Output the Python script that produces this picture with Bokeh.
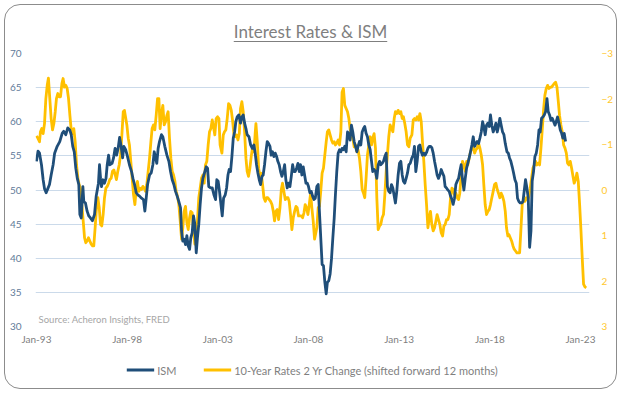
import numpy as np
import pandas as pd
from bokeh.plotting import figure
from bokeh.layouts import column
from bokeh.models import (Range1d, LinearAxis, FixedTicker, DatetimeTickFormatter,
                          Legend, LegendItem, Label, Div)
from bokeh.embed import file_html
from bokeh.resources import INLINE

# ---------------- data ----------------
# months since Jan-1993
ism_month = [0, 1, 2, 3.3, 4.4, 5.3, 6.4, 7.5, 8.6, 9.7, 11, 12, 13.7, 15.4, 17, 18, 19.4, 20.7, 22, 23,
             24, 25, 26, 27, 28, 28.7, 29.6, 30.7, 31.3, 32.4, 33.5, 34.6, 35.7, 37, 38.4, 39.5, 41, 41.7,
             42.4, 43, 44, 45, 46, 46.8, 47.7, 48.5, 50, 51, 52, 53, 54, 55, 56, 57, 57.8, 59, 60, 61.5,
             62.9, 63.8, 64.9, 66, 67, 68.2, 69.5, 70.8, 71.7, 72.6, 73.5, 74.8, 75.9, 77, 77.9, 78.8,
             79.6, 80.5, 81.4, 82.7, 83.6, 84.9, 86.3, 87.6, 88.7, 89.8, 90.9, 92, 93.1, 94.2, 95.3, 96,
             96.8, 97.7, 98.6, 99.5, 100.4, 101.3, 102.1, 103, 103.9, 104.8, 105.7, 106.5, 107.4, 108.3,
             109.2, 110.1, 111.4, 112.3, 113.2, 114, 115.2, 116.3, 117.4, 118.5, 119.3, 120.2, 121.1,
             122.9, 123.8, 124.9, 125.8, 126.7, 127.5, 128.4, 129.3, 130.2, 131.1, 131.9, 132.8, 133.9,
             135, 135.9, 136.8, 137.7, 138.6, 139.4, 140.6, 141.7, 142.8, 143.9, 144.7, 145.6, 146.5,
             147.4, 148.3, 149.2, 150, 150.9, 151.8, 152.7, 153.6, 154.5, 155.3, 156.2, 157.1, 158,
             158.9, 159.7, 160.6, 161.5, 162.4, 163.3, 164.2, 165, 165.9, 166.8, 167.7, 168.6, 169.5,
             170.3, 171.2, 172.1, 173, 173.9, 174.7, 175.6, 176.5, 177.4, 178.3, 179.2, 180, 180.9,
             181.8, 182.7, 183.6, 184.5, 185.5, 186.4, 187.2, 188.1, 189, 189.9, 190.8, 191.7, 192.5,
             193.4, 194.3, 195.2, 196.1, 197, 197.8, 198.7, 199.6, 200.5, 201.4, 202.2, 203.1, 204,
             204.9, 205.8, 206.7, 207.5, 208.4, 209.3, 210.2, 211.1, 212, 212.8, 213.7, 214.6, 215.5,
             216.4, 217.2, 218.1, 219, 219.9, 220.8, 221.7, 222.5, 223.4, 224.3, 225.2, 226.1, 227,
             227.8, 228.7, 229.6, 230.5, 231.4, 232.2, 233.1, 234, 234.9, 235.8, 236.7, 237.5, 238.4,
             239.3, 240.2, 241.1, 242, 242.8, 243.7, 244.6, 245.5, 246.4, 247.3, 248.4, 249.3, 250.1,
             251, 251.9, 252.8, 253.7, 254.6, 255.4, 256.3, 257.2, 258.1, 259, 259.9, 260.7, 261.6,
             262.5, 263.4, 264.3, 265.1, 266, 266.9, 267.8, 268.7, 269.6, 270.4, 271.3, 272.2, 273.1,
             274, 274.9, 275.7, 276.6, 277.5, 278.4, 279.3, 280.1, 281, 281.9, 282.8, 283.7, 284.6,
             285.4, 286.3, 287.2, 288.1, 289, 289.9, 290.7, 291.6, 292.5, 293.4, 294.3, 295.2, 296,
             296.9, 297.8, 298.7, 299.6, 300.4, 301.3, 302.2, 303.1, 304, 304.9, 305.7, 306.6, 307.5,
             308.4, 309.3, 310.2, 311.3, 312.2, 313, 313.9, 314.8, 315.7, 316.6, 317.5, 318.3, 319.2,
             320.1, 321, 321.9, 322.8, 323.6, 324.5, 325.4, 326.3, 327.2, 328, 328.9, 329.8, 330.7,
             331.6, 332.5, 333.3, 334.2, 335.1, 336, 336.9, 337.8, 338.6, 339.5, 340.4, 341.3, 342.2,
             343.1, 343.9, 344.8, 345.7, 346.6, 347.5, 348.3, 349.2, 350.1]
ism_value = [54.2, 55.7, 55.4, 53.7, 51.5, 50.2, 49.6, 50.2, 50.8, 52.2, 53.7, 55.4, 56.4, 57.1, 58.3, 58.6,
             58.1, 59.1, 58.8, 58.1, 56.4, 55.6, 53.2, 51.7, 50.8, 46.4, 45.9, 50.5, 48.3, 48.1, 46.9, 46.2,
             45.9, 45.5, 46.4, 49.1, 51.0, 53.7, 51.7, 50.5, 51.5, 51.0, 51.7, 53.7, 55.1, 53.7, 53.9, 54.7,
             56.1, 55.1, 56.1, 57.7, 56.4, 54.7, 56.4, 55.9, 55.1, 53.7, 52.7, 51.7, 50.8, 49.6, 49.3, 49.1,
             48.8, 48.6, 46.9, 48.8, 50.8, 52.2, 52.5, 53.7, 55.6, 54.7, 53.9, 56.1, 57.1, 58.1, 57.8, 56.4,
             55.1, 54.2, 52.7, 51.5, 50.8, 49.8, 49.1, 48.3, 47.4, 44.0, 42.5, 42.8, 42.0, 43.3, 41.8, 41.3,
             43.0, 43.7, 46.2, 45.0, 40.8, 43.0, 45.0, 47.9, 50.3, 51.7, 52.7, 53.4, 53.2, 50.5, 50.3, 50.3,
             49.3, 48.6, 51.5, 51.3, 49.8, 46.2, 48.8, 49.3, 50.3, 52.2, 53.0, 52.7, 54.9, 57.6, 58.5, 60.0,
             60.7, 61.0, 59.8, 60.7, 61.0, 59.8, 59.0, 58.1, 57.8, 56.6, 56.1, 56.6, 55.4, 53.7, 52.5, 51.5,
             50.8, 52.0, 52.2, 53.7, 55.6, 57.1, 56.8, 56.4, 55.1, 55.6, 54.9, 55.4, 54.9, 54.2, 53.7, 52.7,
             52.0, 52.7, 53.7, 51.5, 50.3, 51.0, 50.5, 52.0, 53.7, 52.7, 52.7, 53.2, 53.9, 52.7, 53.7, 52.2,
             53.4, 52.2, 51.0, 51.0, 50.5, 49.6, 49.8, 49.1, 48.6, 48.8, 50.5, 50.8, 46.9, 43.0, 39.1, 38.9,
             36.5, 34.8, 36.5, 36.7, 37.7, 39.9, 43.0, 45.9, 49.3, 52.7, 55.4, 55.9, 55.6, 56.1, 55.9, 56.4,
             55.6, 58.5, 58.1, 57.3, 59.5, 58.5, 57.1, 56.4, 55.6, 56.4, 57.1, 56.6, 58.5, 59.0, 59.3, 58.3,
             57.8, 56.6, 55.9, 54.2, 52.7, 53.0, 52.7, 51.7, 53.7, 54.2, 53.7, 53.9, 54.2, 54.9, 55.4, 50.5,
             49.8, 49.6, 50.8, 50.3, 49.1, 48.1, 49.8, 52.2, 53.9, 54.2, 52.2, 51.3, 51.0, 51.7, 52.5, 53.7,
             53.9, 54.7, 55.1, 56.4, 52.7, 54.2, 56.4, 56.6, 55.6, 55.1, 55.4, 55.1, 55.5, 56.1, 56.4, 56.4,
             56.2, 55.4, 54.2, 53.2, 52.2, 51.7, 52.2, 53.0, 52.5, 52.0, 50.5, 50.3, 50.0, 49.8, 49.1, 48.6,
             47.9, 48.8, 50.8, 51.3, 51.7, 52.7, 53.7, 51.5, 50.0, 51.7, 53.2, 53.9, 54.7, 55.6, 56.6, 57.8,
             56.4, 56.8, 57.1, 56.8, 57.6, 58.5, 60.0, 59.3, 58.1, 59.5, 59.8, 59.3, 61.0, 59.5, 58.5, 59.0,
             59.8, 58.5, 59.3, 60.5, 59.5, 58.5, 58.1, 56.8, 55.6, 55.4, 54.7, 54.2, 53.4, 52.5, 51.5, 51.0,
             48.8, 48.3, 48.1, 48.1, 48.3, 50.0, 51.5, 50.3, 48.8, 41.6, 44.0, 51.3, 52.7, 54.9, 55.4, 56.6,
             58.8, 58.5, 60.5, 60.7, 61.0, 61.5, 63.4, 61.5, 61.0, 60.2, 60.5, 60.0, 59.5, 60.0, 60.7, 59.8,
             58.8, 58.3, 57.6, 58.3, 57.1]

rate_month = [0, 0.9, 2, 2.6, 3.5, 4.4, 5.3, 6.2, 7.1, 7.9, 8.8, 9.7, 10.6, 11.5, 12.4, 13.2, 14.1, 15, 15.9,
              16.8, 17.6, 18.5, 19.4, 20.3, 21.2, 22.1, 22.9, 23.8, 24.7, 25.6, 26.5, 27.4, 28.2, 29.1, 30,
              30.9, 31.8, 32.6, 33.5, 34.4, 35.3, 36.2, 37.1, 37.9, 38.8, 39.7, 40.6, 41.5, 42.4, 43.2, 44.1,
              45, 45.9, 46.8, 47.7, 48.5, 49.4, 50.3, 51.2, 52.1, 52.9, 53.8, 54.7, 55.6, 56.5, 57.4, 58.2,
              59.8, 60.7, 61.5, 62.4, 63.3, 64.2, 65.1, 66, 66.8, 67.7, 68.6, 69.5, 70.4, 71.3, 72.1, 73,
              73.9, 74.8, 75.7, 76.5, 77.4, 78.3, 79.2, 80.1, 81, 81.8, 82.7, 83.6, 84.5, 85.4, 86.3, 87.1,
              88, 88.9, 89.8, 90.7, 91.6, 92.4, 93.3, 94.2, 95.1, 96, 96.8, 97.7, 98.6, 99.5, 100.4, 101.3,
              102.1, 103, 103.9, 104.8, 105.7, 106.5, 107.4, 108.3, 109.2, 110.1, 111, 111.8, 112.7, 113.6,
              114.5, 115.4, 116.3, 117.1, 118, 118.9, 119.8, 120.7, 121.5, 122.7, 123.6, 124.4, 125.3,
              126.2, 127.1, 128, 128.9, 129.7, 130.6, 131.5, 132.4, 133.3, 134.2, 135, 135.9, 136.8, 137.7,
              138.6, 139.4, 140.3, 141.2, 142.1, 143, 143.9, 144.7, 145.2, 146.1, 147, 147.8, 148.7, 149.6,
              150.5, 151.4, 152.2, 153.1, 154, 154.9, 155.8, 156.7, 157.5, 158.4, 159.3, 160.2, 161.1, 162,
              162.8, 163.7, 164.6, 165.5, 166.4, 167.2, 168.1, 169, 169.9, 170.8, 171.7, 172.5, 173.4,
              174.3, 175.2, 176.1, 177, 177.8, 178.7, 179.6, 180.5, 181.4, 182.2, 183.1, 184, 185.5, 186.4,
              187.2, 188.1, 189, 189.9, 190.8, 191.7, 192.5, 193.4, 194.3, 195.2, 196.1, 197, 197.8, 198.7,
              199.6, 200.5, 201.4, 202.2, 203.1, 204, 204.9, 205.8, 206.7, 207.5, 208.4, 209.3, 210.2,
              211.1, 212, 212.8, 213.7, 214.6, 215.5, 216.4, 217.2, 218.1, 219, 219.9, 220.8, 221.7, 222.5,
              223.4, 224.3, 225.2, 226.1, 227, 227.8, 228.7, 229.6, 230.5, 231.4, 232.2, 233.1, 234, 234.9,
              235.8, 236.7, 237.5, 238.4, 239.3, 240.2, 241.1, 242, 242.8, 243.7, 244.6, 245.5, 246.4,
              247.3, 248.4, 249.3, 250.1, 251, 251.9, 252.8, 253.7, 254.6, 255.4, 256.3, 257.2, 258.1, 259,
              259.9, 260.7, 261.6, 262.5, 263.4, 264.3, 265.1, 266, 266.9, 267.8, 268.7, 269.6, 270.4,
              271.3, 272.2, 273.1, 274, 274.9, 275.7, 276.6, 277.5, 278.4, 279.3, 280.1, 281, 281.9, 282.8,
              283.7, 284.6, 285.4, 286.3, 287.2, 288.1, 289, 289.9, 290.7, 291.6, 292.5, 293.4, 294.3,
              295.2, 296, 296.9, 297.8, 298.7, 299.6, 300.4, 301.3, 302.2, 303.1, 304, 304.9, 305.7, 306.6,
              307.5, 308.4, 309.3, 310.2, 311, 311.9, 312.6, 313.5, 314.4, 315.3, 316.1, 317, 317.9, 318.8,
              319.7, 320.5, 321.4, 322.3, 323.2, 324.1, 325, 325.8, 326.7, 327.6, 328.5, 329.4, 330.3,
              331.1, 332, 332.9, 333.8, 334.7, 335.6, 336.4, 337.3, 338.2, 339.1, 340, 340.8, 341.7, 342.6,
              343.5, 344.4, 345.3, 346.1, 347, 347.9, 348.8, 349.7, 350.6, 351.4, 352.3, 353.2, 354.1, 355,
              355.8, 356.7, 357.6, 358.5, 359.4, 360.3, 361.1, 362, 362.9, 363.8]
rate_value = [-1.19, -1.14, -1.06, -1.28, -1.35, -1.24, -1.46, -2.01, -2.30, -2.46, -2.01, -1.57, -1.32, -1.46,
              -1.72, -2.01, -2.12, -2.05, -2.05, -2.34, -2.45, -2.26, -2.30, -2.23, -2.01, -1.64, -1.35,
              -1.24, -1.35, -1.06, -0.55, -0.26, -0.12, -0.04, 0.32, 0.68, 1.05, 1.16, 1.12, 1.05, 1.12, 1.19,
              1.23, 1.23, 0.83, 0.39, 0.17, 0.39, 0.76, 0.79, 0.54, 0.17, -0.04, -0.08, -0.15, -0.23, -0.26,
              -0.41, -0.44, -0.33, -0.23, -0.41, -0.55, -0.77, -1.21, -1.72, -1.75, -1.43, -1.14, -0.99,
              -0.63, -0.26, 0.10, 0.32, -0.01, -0.19, 0.03, -0.04, -0.01, -0.08, -0.04, 0.03, -0.12, -0.41,
              -0.70, -1.06, -1.35, -1.43, -1.32, -1.64, -2.01, -2.01, -1.35, -1.68, -1.86, -1.43, -1.50,
              -1.64, -1.72, -1.14, -0.70, -0.41, -0.33, -0.19, 0.03, 0.14, 0.32, 0.68, 1.08, 0.83, 0.47, 0.36,
              0.72, 0.87, 0.61, 0.47, 0.50, 0.90, 1.19, 1.05, 0.68, 0.17, -0.04, -0.26, -0.33, -0.15, -0.55,
              -0.63, -0.99, -1.28, -1.35, -1.54, -1.39, -1.21, -1.57, -1.61, -1.57, -0.99, -0.81, -1.21,
              -1.28, -1.32, -1.57, -1.90, -1.86, -1.75, -1.54, -1.24, -1.17, -1.21, -1.10, -1.24, -1.79,
              -1.94, -1.72, -1.28, -0.70, -0.41, -0.30, -0.48, -0.74, -0.95, -0.84, -1.24, -1.46, -1.06,
              -0.48, -0.30, -0.37, -0.12, 0.17, 0.25, 0.17, 0.17, 0.21, 0.25, 0.32, 0.47, 0.68, 0.47, 0.43,
              0.65, 0.39, -0.01, -0.15, 0.03, 0.21, 0.17, 0.17, 0.25, 0.54, 0.87, 0.61, 0.47, 0.36, 0.39, 0.57,
              0.57, 0.57, 0.61, 0.50, 0.32, 0.39, 0.54, 0.32, 0.07, 0.39, 0.68, 1.08, 0.83, 0.39, 0.36, 0.03,
              -0.37, -0.48, -0.77, -1.06, -1.28, -1.32, -1.21, -1.10, -1.03, -1.06, -0.99, -1.03, -1.10,
              -0.99, -1.28, -2.15, -2.23, -1.86, -1.79, -1.72, -1.57, -1.35, -1.17, -1.14, -0.95, -0.99,
              -0.84, -0.88, -0.70, -0.41, -0.01, 0.07, 0.17, -0.26, -0.77, -0.99, -1.17, -0.99, -1.14, -1.24,
              -0.92, 0.17, 0.87, 0.79, 0.76, 0.61, 0.54, 0.10, -0.41, -0.77, -1.17, -1.43, -1.35, -1.28,
              -1.57, -1.72, -1.68, -1.75, -1.68, -1.72, -1.57, -1.61, -1.46, -1.28, -0.99, -0.95, -1.14,
              -1.21, -1.54, -1.57, -1.54, -1.61, -1.54, -1.68, -1.50, -1.06, -0.63, -0.12, 0.32, 0.83, 0.61,
              0.47, 0.76, 0.90, 0.83, 0.68, 0.54, 0.65, 0.76, 0.94, 1.01, 0.79, 0.76, 0.65, 0.65, 0.54, 0.17,
              -0.04, -0.01, 0.10, 0.07, 0.17, 0.21, 0.07, -0.33, -0.63, -0.55, -0.41, -0.63, -0.55, -0.70,
              -0.84, -0.92, -0.95, -0.81, -0.88, -0.92, -1.03, -0.92, -0.77, -0.55, -0.12, 0.32, 0.54, 0.47,
              0.43, 0.32, 0.17, 0.03, -0.12, -0.15, -0.01, 0.07, 0.17, 0.07, 0.14, 0.25, 0.47, 0.83, 1.01,
              0.98, 1.05, 1.12, 1.23, 1.30, 1.34, 1.38, 1.38, 1.38, 0.90, 0.32, 0.21, 0.25, 0.17, 0.21, 0.14,
              -0.04, -0.26, -0.48, -0.55, -0.63, -0.55, -0.59, -0.55, -0.92, -1.35, -1.79, -2.08, -2.23,
              -2.30, -2.23, -2.26, -2.26, -2.30, -2.34, -2.37, -2.26, -1.94, -1.64, -1.43, -1.28, -0.99,
              -0.92, -0.81, -0.59, -0.55, -0.63, -0.48, -0.30, -0.15, -0.23, -0.37, -0.19, 0.32, 0.90, 1.48,
              2.07, 2.13, 2.15]

x_tick_years = [1993, 1998, 2003, 2008, 2013, 2018, 2023]
left_ticks = [30, 35, 40, 45, 50, 55, 60, 65, 70]
right_ticks = [-3, -2, -1, 0, 1, 2, 3]

title_text = "Interest Rates &amp; ISM"
source_text = "Source: Acheron Insights, FRED"
ism_label = "ISM"
rate_label = "10-Year Rates 2 Yr Change (shifted forward 12 months)"

# ---------------- chart ----------------
START = pd.Timestamp("1993-01-01")


def to_dates(months):
    return START + pd.to_timedelta(np.asarray(months, dtype=float) * 30.4375, unit="D")


FONT = "Lato"
BLUE = "#1f4e79"
GOLD = "#ffc000"
W = 611

title_div = Div(
    text=('<div style="font-family:Lato; font-size:17px; color:#7f7f7f; '
          'text-decoration:underline; text-decoration-thickness:1px; text-underline-offset:3px; '
          f'text-align:center; width:{W}px; padding-top:18px; line-height:18px">{title_text}</div>'),
    width=W, height=36, margin=0)

X_RANGE = (START - pd.Timedelta(days=20), pd.Timestamp("2023-07-01"))

p = figure(width=W, height=306, x_axis_type="datetime", output_backend="svg",
           toolbar_location=None, margin=0,
           x_range=Range1d(*X_RANGE), y_range=Range1d(30, 70),
           min_border_left=30, min_border_right=27, min_border_top=12, min_border_bottom=20)
p.extra_y_ranges = {"rates": Range1d(3, -3)}
p.outline_line_color = None
p.border_fill_color = None
p.background_fill_color = None

# grid
p.xgrid.visible = False
p.ygrid.ticker = FixedTicker(ticks=left_ticks)
p.ygrid.grid_line_color = "#cbdaea"
p.ygrid.grid_line_width = 1

# x axis
xt = [pd.Timestamp(f"{y}-01-01").value / 1e6 for y in x_tick_years]
xa = p.xaxis[0]
xa.ticker = FixedTicker(ticks=xt)
xa.formatter = DatetimeTickFormatter(years="%b-%y", months="%b-%y", days="%b-%y")
xa.axis_line_color = None
xa.major_tick_line_color = None
xa.minor_tick_line_color = None
xa.major_tick_out = 0
xa.major_tick_in = 0
xa.major_label_standoff = 6
xa.major_label_text_font = FONT
xa.major_label_text_font_size = "10px"
xa.major_label_text_color = "#808080"

# left axis
ya = p.yaxis[0]
ya.ticker = FixedTicker(ticks=left_ticks)
ya.axis_line_color = None
ya.major_tick_line_color = None
ya.minor_tick_line_color = None
ya.major_tick_out = 0
ya.major_tick_in = 0
ya.major_label_standoff = 14
ya.major_label_text_font = FONT
ya.major_label_text_font_size = "10px"
ya.major_label_text_color = "#5f7a99"

# right axis (inverted)
ra = LinearAxis(y_range_name="rates", ticker=FixedTicker(ticks=right_ticks))
ra.axis_line_color = None
ra.major_tick_line_color = None
ra.minor_tick_line_color = None
ra.major_tick_out = 0
ra.major_tick_in = 0
ra.major_label_standoff = 12
ra.major_label_text_font = FONT
ra.major_label_text_font_size = "10px"
ra.major_label_text_color = "#ffc82e"
p.add_layout(ra, "right")

r_rate = p.line(to_dates(rate_month), rate_value, y_range_name="rates",
                line_color=GOLD, line_width=2.8, line_join="round")
r_ism = p.line(to_dates(ism_month), ism_value, line_color=BLUE, line_width=2.8, line_join="round")

src = Label(x=to_dates([1.4])[0], y=30.25, text=source_text, text_font=FONT,
            text_font_size="9.5px", text_color="#a6a6a6", text_baseline="bottom")
p.add_layout(src)

# legend strip below the chart (same series, styled identically; only the keys show here)
lg = figure(width=W, height=41, x_axis_type="datetime", output_backend="svg",
            toolbar_location=None, margin=0,
            x_range=Range1d(*X_RANGE), y_range=Range1d(100, 101),
            min_border_left=0, min_border_right=0, min_border_top=4, min_border_bottom=0)
lg.axis.visible = False
lg.grid.visible = False
lg.outline_line_color = None
lg.border_fill_color = None
lg.background_fill_color = None
k_ism = lg.line(to_dates(ism_month), ism_value, line_color=BLUE, line_width=2.8)
k_rate = lg.line(to_dates(rate_month), rate_value, line_color=GOLD, line_width=2.8)

legend = Legend(items=[LegendItem(label=ism_label, renderers=[k_ism]),
                       LegendItem(label=rate_label, renderers=[k_rate])],
                orientation="horizontal", location="center",
                border_line_color=None, background_fill_alpha=0,
                label_text_font=FONT, label_text_font_size="11px", label_text_color="#7f7f7f",
                glyph_width=28, glyph_height=12, label_height=12, spacing=26, label_standoff=3,
                margin=0, padding=0)
lg.add_layout(legend)

layout = column(title_div, p, lg, spacing=0, margin=(4, 0, 0, 4),
                styles={"border": "1.3px solid #8c8c8c", "border-radius": "16px"})

open("out.html", "w").write(file_html(layout, INLINE))
